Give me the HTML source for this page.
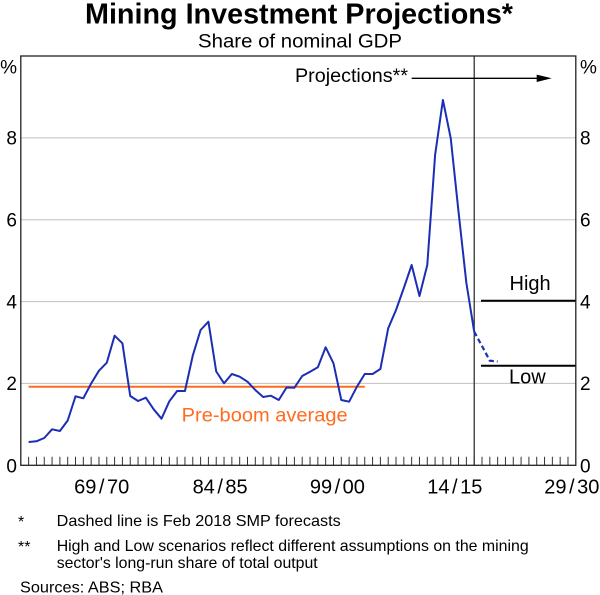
<!DOCTYPE html>
<html>
<head>
<meta charset="utf-8">
<style>
  html, body { margin: 0; padding: 0; background: #ffffff; }
  svg { display: block; }
  text { font-family: "Liberation Sans", Arial, sans-serif; fill: #000; }
</style>
</head>
<body>
<svg width="600" height="595" viewBox="0 0 600 595" xmlns="http://www.w3.org/2000/svg">
  <rect x="0" y="0" width="600" height="595" fill="#ffffff"/>

  <!-- Title -->
  <text x="85" y="23.3" font-size="28.5" font-weight="bold" textLength="428" lengthAdjust="spacingAndGlyphs">Mining Investment Projections*</text>
  <text x="198" y="47.3" font-size="19" textLength="204" lengthAdjust="spacingAndGlyphs">Share of nominal GDP</text>

  <!-- Gridlines -->
  <g stroke="#c0c0c0" stroke-width="1">
    <line x1="20.8" y1="137.9" x2="575.8" y2="137.9"/>
    <line x1="20.8" y1="219.7" x2="575.8" y2="219.7"/>
    <line x1="20.8" y1="301.6" x2="575.8" y2="301.6"/>
    <line x1="20.8" y1="383.4" x2="575.8" y2="383.4"/>
  </g>

  <!-- Pre-boom average -->
  <line x1="28.62" y1="386.7" x2="364.75" y2="386.7" stroke="#ff6b1f" stroke-width="2"/>
  <text x="181.7" y="421.7" font-size="19" textLength="166" lengthAdjust="spacingAndGlyphs" style="fill:#ff6b1f">Pre-boom average</text>

  <!-- Divider -->
  <line x1="474.2" y1="56" x2="474.2" y2="465.3" stroke="#222" stroke-width="1.2"/>

  <!-- Projection arrow -->
  <line x1="411.7" y1="78.3" x2="538" y2="78.3" stroke="#000" stroke-width="1.3"/>
  <polygon points="536.7,74.6 551.7,78.3 536.7,82" fill="#000"/>
  <text x="295" y="82" font-size="19" textLength="113" lengthAdjust="spacingAndGlyphs">Projections**</text>

  <!-- High / Low scenarios -->
  <line x1="481" y1="300.7" x2="575.8" y2="300.7" stroke="#000" stroke-width="2"/>
  <line x1="481" y1="365.7" x2="575.8" y2="365.7" stroke="#000" stroke-width="2"/>
  <text x="509.5" y="290" font-size="20">High</text>
  <text x="509" y="383.5" font-size="20">Low</text>

  <!-- Series -->
  <polyline fill="none" stroke="#1c2eb5" stroke-width="2" stroke-linejoin="round"
    points="28.62,442 36.43,441.3 44.25,438 52.07,429.3 59.89,431 67.70,420.5 75.52,396.3 83.34,398.3 91.15,383.5 98.97,370.7 106.79,362.7 114.60,335.7 122.42,343.3 130.24,396 138.06,401 145.87,397.7 153.69,409.3 161.51,418.7 169.32,401.3 177.14,391 184.96,391 192.77,355.6 200.59,330 208.41,321.7 216.23,371.5 224.04,383.3 231.86,374 239.68,376.7 247.49,381.7 255.31,390 263.13,397 270.94,395.7 278.76,400 286.58,387.5 294.40,387.7 302.21,376 310.03,371.7 317.85,367.3 325.66,347.3 333.48,363.3 341.30,400 349.11,401.7 356.93,386.7 364.75,374 372.57,374 380.38,369 388.20,328.3 396.02,310 403.83,288 411.65,265 419.47,296 427.28,265 435.10,155 442.92,100 450.74,138.3 458.55,212 466.37,283 474.19,331.7"/>
  <polyline fill="none" stroke="#1c2eb5" stroke-width="2.2" stroke-dasharray="5,3"
    points="474.19,331.7 482.0,346 489.8,360.7 497.6,361.5"/>

  <!-- Ticks -->
  <path stroke="#333" stroke-width="1" fill="none" d="M28.62 465.3V456.8M36.43 465.3V456.8M44.25 465.3V456.8M52.07 465.3V456.8M59.89 465.3V456.8M67.70 465.3V456.8M75.52 465.3V456.8M83.34 465.3V456.8M91.15 465.3V456.8M98.97 465.3V456.8M106.79 465.3V456.8M114.60 465.3V456.8M122.42 465.3V456.8M130.24 465.3V456.8M138.06 465.3V456.8M145.87 465.3V456.8M153.69 465.3V456.8M161.51 465.3V456.8M169.32 465.3V456.8M177.14 465.3V456.8M184.96 465.3V456.8M192.77 465.3V456.8M200.59 465.3V456.8M208.41 465.3V456.8M216.23 465.3V456.8M224.04 465.3V456.8M231.86 465.3V456.8M239.68 465.3V456.8M247.49 465.3V456.8M255.31 465.3V456.8M263.13 465.3V456.8M270.94 465.3V456.8M278.76 465.3V456.8M286.58 465.3V456.8M294.40 465.3V456.8M302.21 465.3V456.8M310.03 465.3V456.8M317.85 465.3V456.8M325.66 465.3V456.8M333.48 465.3V456.8M341.30 465.3V456.8M349.11 465.3V456.8M356.93 465.3V456.8M364.75 465.3V456.8M372.57 465.3V456.8M380.38 465.3V456.8M388.20 465.3V456.8M396.02 465.3V456.8M403.83 465.3V456.8M411.65 465.3V456.8M419.47 465.3V456.8M427.28 465.3V456.8M435.10 465.3V456.8M442.92 465.3V456.8M450.74 465.3V456.8M458.55 465.3V456.8M466.37 465.3V456.8M474.19 465.3V456.8M482.00 465.3V456.8M489.82 465.3V456.8M497.64 465.3V456.8M505.45 465.3V456.8M513.27 465.3V456.8M521.09 465.3V456.8M528.91 465.3V456.8M536.72 465.3V456.8M544.54 465.3V456.8M552.36 465.3V456.8M560.17 465.3V456.8M567.99 465.3V456.8"/>

  <!-- Plot frame -->
  <rect x="20.8" y="56" width="555" height="409.3" fill="none" stroke="#222" stroke-width="1.3"/>

  <!-- Y axis labels left -->
  <g font-size="19" text-anchor="end">
    <text x="17" y="73.3">%</text>
    <text x="17" y="144.7">8</text>
    <text x="17" y="226.5">6</text>
    <text x="17" y="308.4">4</text>
    <text x="17" y="390.2">2</text>
    <text x="17" y="472.5">0</text>
  </g>
  <!-- Y axis labels right -->
  <g font-size="19" text-anchor="start">
    <text x="580" y="73.3">%</text>
    <text x="580" y="144.7">8</text>
    <text x="580" y="226.5">6</text>
    <text x="580" y="308.4">4</text>
    <text x="580" y="390.2">2</text>
    <text x="580" y="472.5">0</text>
  </g>

  <!-- X axis labels -->
  <g font-size="20" text-anchor="middle">
    <text x="101.7" y="493.5">69<tspan dx="2.5">/</tspan><tspan dx="2.5">70</tspan></text>
    <text x="220.1" y="493.5">84<tspan dx="2.5">/</tspan><tspan dx="2.5">85</tspan></text>
    <text x="337.4" y="493.5">99<tspan dx="2.5">/</tspan><tspan dx="2.5">00</tspan></text>
    <text x="454.8" y="493.5">14<tspan dx="2.5">/</tspan><tspan dx="2.5">15</tspan></text>
    <text x="571.8" y="493.5">29<tspan dx="2.5">/</tspan><tspan dx="2.5">30</tspan></text>
  </g>

  <!-- Footnotes -->
  <g font-size="16">
    <text x="18" y="527">*</text>
    <text x="56.7" y="526" textLength="284" lengthAdjust="spacingAndGlyphs">Dashed line is Feb 2018 SMP forecasts</text>
    <text x="18" y="552">**</text>
    <text x="56.7" y="551" textLength="472" lengthAdjust="spacingAndGlyphs">High and Low scenarios reflect different assumptions on the mining</text>
    <text x="56.7" y="568" textLength="261" lengthAdjust="spacingAndGlyphs">sector's long-run share of total output</text>
    <text x="20" y="592.7" textLength="143" lengthAdjust="spacingAndGlyphs">Sources: ABS; RBA</text>
  </g>
</svg>
</body>
</html>
